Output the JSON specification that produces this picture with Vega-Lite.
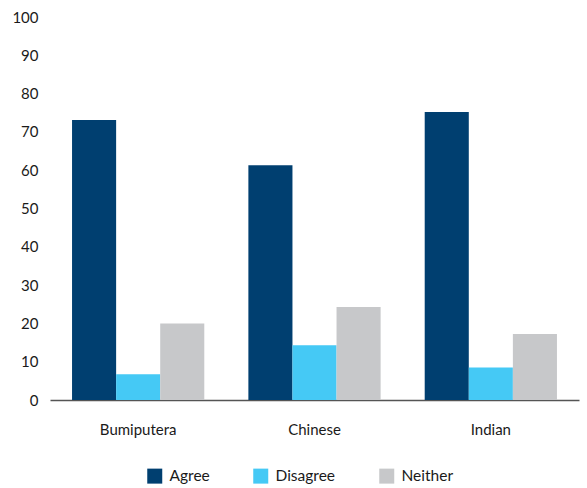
{
  "$schema": "https://vega.github.io/schema/vega-lite/v6.json",
  "width": 529,
  "height": 383,
  "autosize": "none",
  "padding": {"left": 50, "top": 17, "right": 8, "bottom": 88},
  "config": {
    "view": {"stroke": null},
    "font": "Lato",
    "axis": {"labelFont": "Lato", "labelColor": "#1a1a1a", "labelFontSize": 15, "grid": false, "ticks": false, "title": null}
  },
  "data": {
    "values": [
      {"group": "Bumiputera", "response": "Agree", "value": 73.1},
      {"group": "Bumiputera", "response": "Disagree", "value": 6.7},
      {"group": "Bumiputera", "response": "Neither", "value": 20.0},
      {"group": "Chinese", "response": "Agree", "value": 61.3},
      {"group": "Chinese", "response": "Disagree", "value": 14.3},
      {"group": "Chinese", "response": "Neither", "value": 24.3},
      {"group": "Indian", "response": "Agree", "value": 75.2},
      {"group": "Indian", "response": "Disagree", "value": 8.5},
      {"group": "Indian", "response": "Neither", "value": 17.2}
    ]
  },
  "mark": {"type": "bar"},
  "encoding": {
    "x": {
      "field": "group", "type": "nominal", "sort": ["Bumiputera", "Chinese", "Indian"],
      "scale": {"paddingInner": 0.25, "paddingOuter": 0.125},
      "axis": {"labelAngle": 0, "labelPadding": 22, "domain": true, "domainColor": "#555555", "domainWidth": 1.5}
    },
    "xOffset": {"field": "response", "type": "nominal", "sort": ["Agree", "Disagree", "Neither"], "scale": {"paddingInner": 0}},
    "y": {
      "field": "value", "type": "quantitative",
      "scale": {"domain": [0, 100], "nice": false},
      "axis": {"values": [0, 10, 20, 30, 40, 50, 60, 70, 80, 90, 100], "domain": false, "labelPadding": 12}
    },
    "color": {
      "field": "response", "type": "nominal", "sort": ["Agree", "Disagree", "Neither"],
      "scale": {"domain": ["Agree", "Disagree", "Neither"], "range": ["#003f70", "#45c9f5", "#c7c8ca"]},
      "legend": {
        "title": null, "orient": "none", "direction": "horizontal",
        "legendX": 97, "legendY": 451,
        "symbolType": "square", "symbolSize": 225, "symbolStrokeWidth": 0,
        "labelFont": "Lato", "labelFontSize": 15.5, "labelColor": "#1a1a1a", "labelOffset": 7,
        "columnPadding": 43, "padding": 0
      }
    }
  }
}
